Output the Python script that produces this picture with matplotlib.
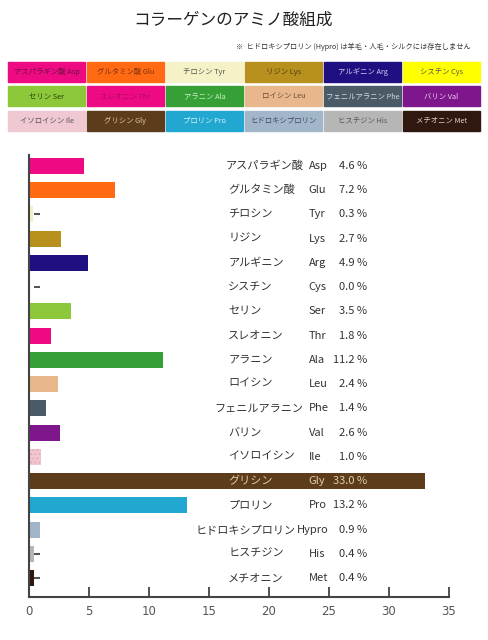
import matplotlib
matplotlib.use('Agg')
import matplotlib.pyplot as plt
from matplotlib.patches import Rectangle

plt.rcParams['font.family'] = ['Noto Sans CJK JP', 'DejaVu Sans']

# amino acid composition of collagen (%)
names = ['アスパラギン酸', 'グルタミン酸', 'チロシン', 'リジン', 'アルギニン', 'シスチン',
         'セリン', 'スレオニン', 'アラニン', 'ロイシン', 'フェニルアラニン', 'バリン',
         'イソロイシン', 'グリシン', 'プロリン', 'ヒドロキシプロリン', 'ヒスチジン', 'メチオニン']
abbrs = ['Asp', 'Glu', 'Tyr', 'Lys', 'Arg', 'Cys',
         'Ser', 'Thr', 'Ala', 'Leu', 'Phe', 'Val',
         'Ile', 'Gly', 'Pro', 'Hypro', 'His', 'Met']
values = [4.6, 7.2, 0.3, 2.7, 4.9, 0.0,
          3.5, 1.8, 11.2, 2.4, 1.4, 2.6,
          1.0, 33.0, 13.2, 0.9, 0.4, 0.4]
colors = ['#ee0a82', '#ff6a12', '#f5f2c8', '#b8901e', '#1e1080', '#ffff00',
          '#8cc83a', '#ee0a82', '#36a036', '#e8b88c', '#4a5a66', '#7e168c',
          '#f0c8d2', '#5c3c1a', '#22a8d0', '#a2b6ca', '#b6b6b6', '#301810']
# text colour used inside the legend cells
cell_text = ['#6a1040', '#7a3010', '#555555', '#4a3a10', '#d8d0f0', '#555555',
             '#2a4010', '#b00a60', '#c8f0c8', '#6a4a30', '#d0dce4', '#f0d0f0',
             '#555555', '#e0c8a0', '#d0f0ff', '#404860', '#555555', '#e0d0c8']

fig = plt.figure(figsize=(4.89, 6.4), dpi=100)

fig.text(0.476, 0.969, 'コラーゲンのアミノ酸組成', ha='center', va='center',
         fontsize=12, color='#222222')
fig.text(0.962, 0.927, '※  ヒドロキシプロリン (Hypro) は羊毛・人毛・シルクには存在しません',
         ha='right', va='center', fontsize=5.2, color='#333333')

# legend cells, 6 per row
W, H = 489.0, 640.0
for i, (nm, ab) in enumerate(zip(names, abbrs)):
    r, c = divmod(i, 6)
    x0 = 8 + c * 79
    y0 = 62 + r * 24.3
    fig.patches.append(Rectangle((x0 / W, 1 - (y0 + 20) / H), 77 / W, 20 / H,
                                 transform=fig.transFigure, color=colors[i]))
    lab = nm if ab == 'Hypro' else nm + ' ' + ab
    fig.text((x0 + 38.5) / W, 1 - (y0 + 10) / H, lab, ha='center', va='center',
             fontsize=5.3, color=cell_text[i])

ax = fig.add_axes([29 / W, 1 - 597 / H, 420 / W, 442 / H])
rows = list(range(len(values)))
ax.barh(rows, values, height=0.66, color=colors)
hatch_bar = ax.patches[abbrs.index('Ile')]
hatch_bar.set_hatch('....')
hatch_bar.set_edgecolor('#e8aabb')
hatch_bar.set_linewidth(0)

# little dash next to the tiny values
for y, v in zip(rows, values):
    if v < 0.5:
        ax.plot(0.65, y, marker='_', markersize=5, color='#333333', mew=1.2)

for y, (nm, ab, v) in enumerate(zip(names, abbrs, values)):
    tc = '#e0cfa8' if ab == 'Gly' else '#333333'
    ab_x = 23.3 if len(ab) <= 3 else 22.3
    if len(nm) <= 6:
        ax.text(16.6, y, nm, ha='left', va='center', fontsize=8, color=tc)
    else:
        ax.text(min(22.9, ab_x - 0.1), y, nm, ha='right', va='center', fontsize=8, color=tc)
    ax.text(ab_x, y, ab, ha='left', va='center', fontsize=8, color=tc)
    ax.text(28.2, y, '%.1f %%' % v, ha='right', va='center', fontsize=8, color=tc)

ax.set_xlim(0, 35)
ax.set_ylim(17.78, -0.45)
ax.set_xticks(range(0, 36, 5))
ax.set_yticks([])
for t in ax.get_xticklabels():
    t.set_family('DejaVu Sans')
ax.tick_params(axis='x', direction='in', length=7.5, width=1.3, color='#444444',
               labelsize=8.5, labelcolor='#555555', pad=6)
for s in ['top', 'right']:
    ax.spines[s].set_visible(False)
for s in ['left', 'bottom']:
    ax.spines[s].set_color('#444444')
    ax.spines[s].set_linewidth(1.5)

fig.savefig('out.png', dpi=100)
